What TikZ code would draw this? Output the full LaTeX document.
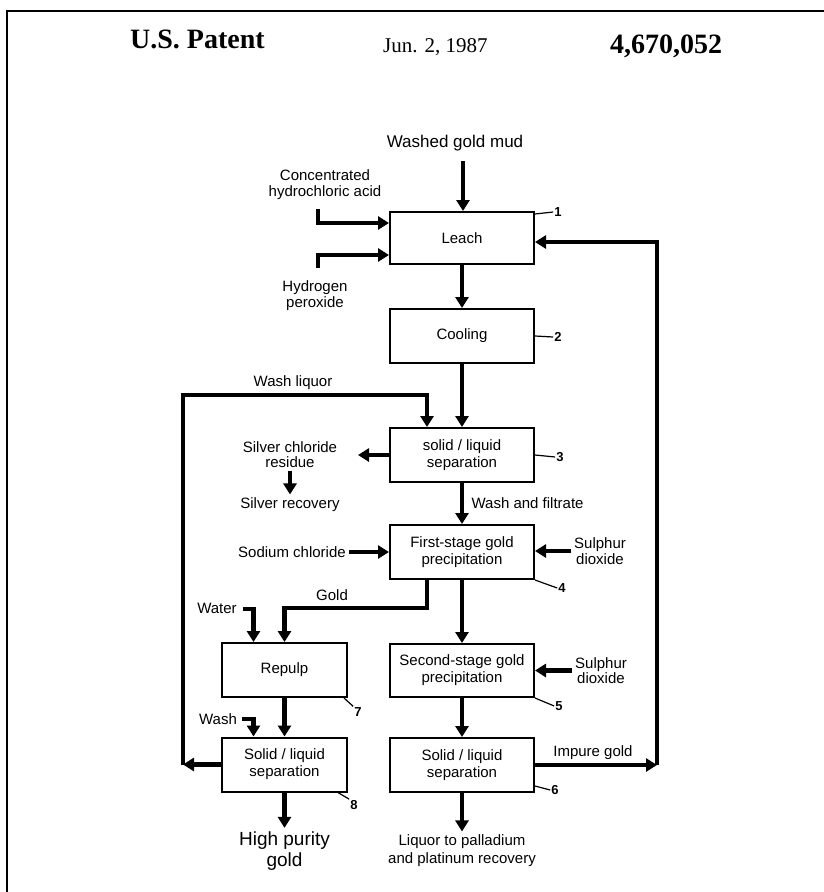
\documentclass[tikz,border=0pt]{standalone}
\usepackage{fontspec}
\setmainfont{Liberation Serif}
\setsansfont{Liberation Sans}
\usetikzlibrary{arrows.meta,positioning}

\begin{document}
\begin{tikzpicture}[x=1pt, y=-1pt,
  box/.style={rectangle, draw, line width=2pt, minimum width=144pt, minimum height=54pt, align=center, font=\sffamily\fontsize{15}{17}\selectfont},
  sbox/.style={box, minimum width=125pt},
  lbl/.style={align=center, font=\sffamily\fontsize{15}{15.5}\selectfont},
  num/.style={inner sep=1pt, font=\sffamily\bfseries\fontsize{13}{13}\selectfont},
  head/.style={anchor=base west, inner sep=0pt},
  arr/.style={-{Triangle[length=11pt,width=13pt]}, line width=4.5pt},
  lead/.style={line width=1.2pt}
]
\useasboundingbox (0,0) rectangle (824,892);
\draw[line width=2.5pt] (824,11) -- (7,11) -- (7,892);

% heading
\node[head, font=\bfseries\fontsize{28}{28}\selectfont] (patent) at (130,48) {U.S. Patent};
\node[head, font=\fontsize{21}{21}\selectfont] (date) at (383,52) {Jun. 2, 1987};
\node[head, font=\bfseries\fontsize{28}{28}\selectfont] (number) at (610,53) {4,670,052};

% process boxes
\node[box, minimum height=52pt] (leach) at (462,238) {Leach};
\node[box] (cooling) at (462,336) {Cooling};
\node[box] (sepa) at (462,455) {solid / liquid\\separation};
\node[box] (first) at (462,552) {First-stage gold\\precipitation};
\node[box, minimum height=53pt] (second) at (462,670.5) {Second-stage gold\\precipitation};
\node[box] (sepc) at (462,765) {Solid / liquid\\separation};
\node[sbox] (repulp) at (284.5,670) {Repulp};
\node[sbox] (sepb) at (284.5,764.5) {Solid / liquid\\separation};

% labels
\node[lbl, font=\sffamily\fontsize{17}{17}\selectfont] (washed) at (455,143) {Washed gold mud};
\node[lbl] (hcl) at (325,184.5) {Concentrated\\hydrochloric acid};
\node[lbl] (perox) at (315,295.5) {Hydrogen\\peroxide};
\node[lbl] (washliq) at (293,383) {Wash liquor};
\node[lbl] (agcl) at (290,454.5) {Silver chloride\\residue};
\node[lbl] (agrec) at (290,505) {Silver recovery};
\node[lbl] (nacl) at (292,552) {Sodium chloride};
\node[lbl] (so2a) at (600,551) {Sulphur\\dioxide};
\node[lbl] (gold) at (332,595) {Gold};
\node[lbl] (water) at (217,608) {Water};
\node[lbl] (so2b) at (601,670.5) {Sulphur\\dioxide};
\node[lbl] (wash) at (218,719) {Wash};
\node[lbl] (impure) at (593,753) {Impure gold};
\node[lbl, font=\sffamily\fontsize{19}{21.5}\selectfont] (hpgold) at (284.5,851) {High purity\\gold};
\node[lbl, font=\sffamily\fontsize{15}{18}\selectfont] (liquor) at (462,851) {Liquor to palladium\\and platinum recovery};

% reference numbers
\node[num] (n1) at (558,212) {1};
\node[num] (n2) at (558,337) {2};
\node[num] (n3) at (560,457) {3};
\node[num] (n4) at (562,588) {4};
\node[num] (n5) at (559,706) {5};
\node[num] (n6) at (555,790) {6};
\node[num] (n7) at (358,712) {7};
\node[num] (n8) at (354,805) {8};

\coordinate (mudin) at (463,161);
\coordinate (hclin) at (318,209);
\coordinate (peroxin) at (318,268);
\coordinate (agclend) at (358,455);
\coordinate (waterin) at (243,609);
\coordinate (washin) at (242,719);
\coordinate (washcorner) at (183,764.5);
\coordinate (washtop) at (183,395);
\coordinate (impcorner) at (657,765);
\coordinate (imptop) at (657,242);

% flows
\draw[arr] (mudin) -- (mudin |- leach.north);
\draw[arr] (hclin) |- ([yshift=15pt]leach.west);
\draw[arr] (peroxin) |- ([yshift=-17pt]leach.west);
\draw[arr] (leach) -- (cooling);
\draw[arr] (cooling) -- (sepa);
\draw[arr] (sepa) -- node[lbl, right=4pt] (filtrate) {Wash and filtrate} (first);
\draw[arr] (sepa.west) -- (agclend);
\draw[arr] (agcl) -- (agrec);
\draw[arr] (nacl) -- (first);
\draw[arr] (so2a.west) -- (so2a.west -| first.east);
\draw[arr] ([xshift=-35pt]first.south) |- ([yshift=34pt]repulp.north) -- (repulp.north);
\draw[arr] (waterin) -| ([xshift=-31pt]repulp.north);
\draw[arr] (first) -- (second);
\draw[arr] (so2b) -- (second);
\draw[arr] (repulp) -- (sepb);
\draw[arr] (washin) -| ([xshift=-31pt]sepb.north);
\draw[arr] (second) -- (sepc);
\draw[arr] (sepb) -- (hpgold);
\draw[arr] (sepc) -- (liquor);
\draw[arr] (sepb) -- (washcorner);
\draw[arr] (washcorner) -- (washtop) -| ([xshift=-35pt]sepa.north);
\draw[arr] (sepc) -- (impcorner);
\draw[arr] (impcorner) -- (imptop) -- (imptop -| leach.east);

% leaders
\draw[lead] ([yshift=-3pt]leach.north east) -- (n1.west);
\draw[lead] (cooling.east) -- (n2.west);
\draw[lead] (sepa.east) -- (n3.west);
\draw[lead] (first.south east) -- (n4.west);
\draw[lead] (second.south east) -- (n5.west);
\draw[lead] ([yshift=7pt]sepc.south east) -- (n6.west);
\draw[lead] ([xshift=-4pt]repulp.south east) -- (n7.north west);
\draw[lead] ([xshift=-10pt]sepb.south east) -- (n8.north west);
\end{tikzpicture}
\end{document}
